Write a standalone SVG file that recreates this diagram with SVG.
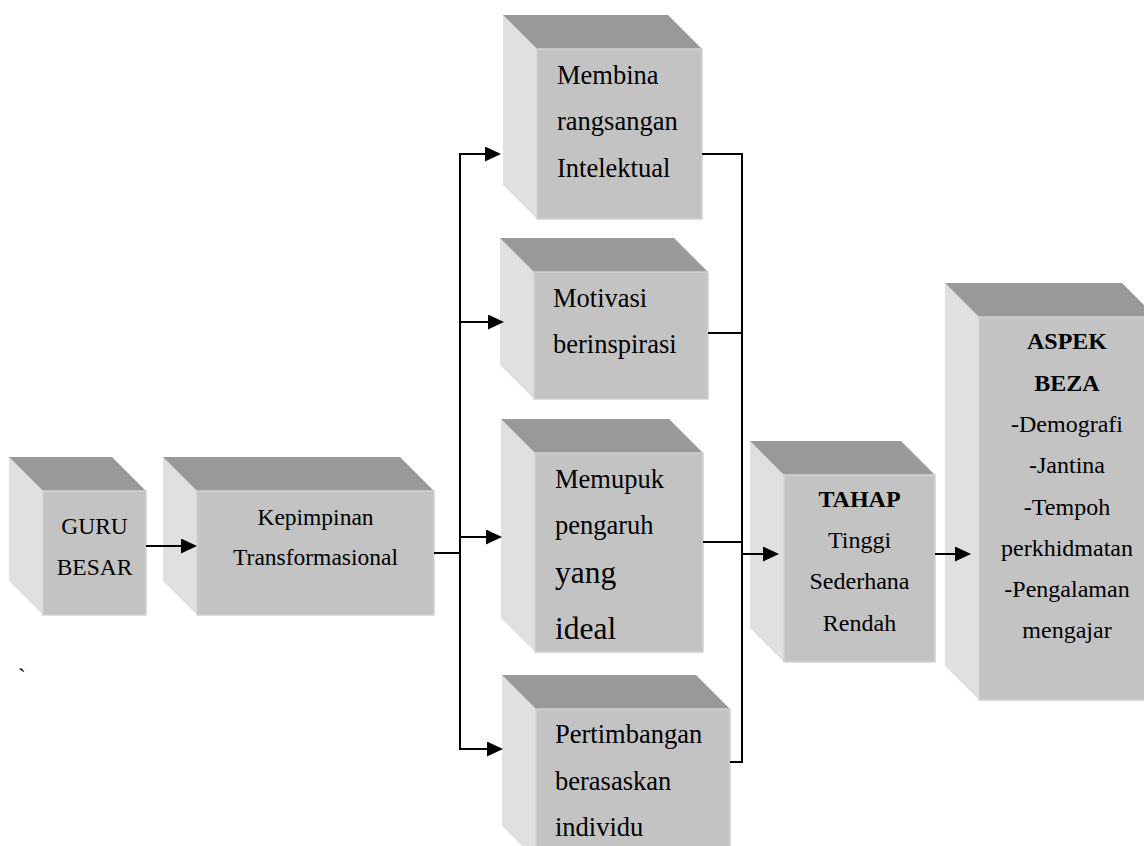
<svg xmlns="http://www.w3.org/2000/svg" width="1144" height="846" viewBox="0 0 1144 846">
<style>
.lf{fill:#e0e0e0}
.tp{fill:#999999}
.fr{fill:#c3c3c3;stroke:#d2d2d2;stroke-width:1.5}
text{font-family:"Liberation Serif","Times New Roman",serif;fill:#000}
.s24{font-size:23.5px}
.s26{font-size:26.5px}
.s31{font-size:31.5px}
.r24{font-size:24px}
.c{text-anchor:middle}
.b{font-weight:bold}
.ln{stroke:#000;stroke-width:2;fill:none}
</style>
<defs>
<marker id="ah" viewBox="0 0 16 15" refX="8" refY="7.5" markerWidth="16" markerHeight="15" markerUnits="userSpaceOnUse" orient="auto">
<path d="M0,0 L16,7.5 L0,15 z" fill="#000"/>
</marker>
</defs>
<rect width="1144" height="846" fill="#fff"/>

<g id="guru">
<polygon class="lf" points="9,457 43,491 43,615 9,581"/>
<polygon class="tp" points="9,457 112,457 146,491 43,491"/>
<rect class="fr" x="43" y="491" width="103" height="124"/>
<text class="s24 c" x="94.5" y="534">GURU</text>
<text class="s24 c" x="94.5" y="575">BESAR</text>
</g>

<g id="kepimpinan">
<polygon class="lf" points="163,457 197,491 197,615 163,581"/>
<polygon class="tp" points="163,457 400,457 434,491 197,491"/>
<rect class="fr" x="197" y="491" width="237" height="124"/>
<text class="s24 c" x="315.5" y="525">Kepimpinan</text>
<text class="s24 c" x="315.5" y="565">Transformasional</text>
</g>

<g id="membina">
<polygon class="lf" points="503,15 537,49 537,219 503,185"/>
<polygon class="tp" points="503,15 668,15 702,49 537,49"/>
<rect class="fr" x="537" y="49" width="165" height="170"/>
<text class="s26" x="557" y="84">Membina</text>
<text class="s26" x="557" y="130">rangsangan</text>
<text class="s26" x="557" y="177">Intelektual</text>
</g>

<g id="motivasi">
<polygon class="lf" points="500,238 534,272 534,399 500,365"/>
<polygon class="tp" points="500,238 674,238 708,272 534,272"/>
<rect class="fr" x="534" y="272" width="174" height="127"/>
<text class="s26" x="553" y="307">Motivasi</text>
<text class="s26" x="553" y="353">berinspirasi</text>
</g>

<g id="memupuk">
<polygon class="lf" points="501,419 535,453 535,652 501,618"/>
<polygon class="tp" points="501,419 669,419 703,453 535,453"/>
<rect class="fr" x="535" y="453" width="168" height="199"/>
<text class="s26" x="555" y="488">Memupuk</text>
<text class="s26" x="555" y="534">pengaruh</text>
<text class="s31" x="555" y="583">yang</text>
<text class="s31" x="555" y="639">ideal</text>
</g>

<g id="pertimbangan">
<polygon class="lf" points="502,675 536,709 536,860 502,826"/>
<polygon class="tp" points="502,675 696,675 730,709 536,709"/>
<rect class="fr" x="536" y="709" width="194" height="151"/>
<text class="s26" x="555" y="743">Pertimbangan</text>
<text class="s26" x="555" y="790">berasaskan</text>
<text class="s26" x="555" y="836">individu</text>
</g>

<g id="tahap">
<polygon class="lf" points="750,441 784,475 784,662 750,628"/>
<polygon class="tp" points="750,441 901,441 935,475 784,475"/>
<rect class="fr" x="784" y="475" width="151" height="187"/>
<text class="r24 c b" x="859.5" y="507">TAHAP</text>
<text class="r24 c" x="859.5" y="548">Tinggi</text>
<text class="r24 c" x="859.5" y="589">Sederhana</text>
<text class="r24 c" x="859.5" y="631">Rendah</text>
</g>

<g id="aspek">
<polygon class="lf" points="945,283 979,317 979,700 945,666"/>
<polygon class="tp" points="945,283 1122,283 1156,317 979,317"/>
<rect class="fr" x="979" y="317" width="177" height="383"/>
<text class="r24 c b" x="1067" y="349">ASPEK</text>
<text class="r24 c b" x="1067" y="391">BEZA</text>
<text class="r24 c" x="1067" y="432">-Demografi</text>
<text class="r24 c" x="1067" y="473">-Jantina</text>
<text class="r24 c" x="1067" y="515">-Tempoh</text>
<text class="r24 c" x="1067" y="556">perkhidmatan</text>
<text class="r24 c" x="1067" y="597">-Pengalaman</text>
<text class="r24 c" x="1067" y="638">mengajar</text>
</g>

<text class="s24" x="18" y="685">`</text>

<g id="connectors">
<line class="ln" x1="146" y1="546" x2="189" y2="546" marker-end="url(#ah)"/>
<polyline class="ln" points="434,553 460,553"/>
<line class="ln" x1="460" y1="153" x2="460" y2="750"/>
<line class="ln" x1="459" y1="154" x2="493" y2="154" marker-end="url(#ah)"/>
<line class="ln" x1="460" y1="322" x2="496" y2="322" marker-end="url(#ah)"/>
<line class="ln" x1="460" y1="537" x2="494" y2="537" marker-end="url(#ah)"/>
<line class="ln" x1="459" y1="749" x2="495" y2="749" marker-end="url(#ah)"/>
<line class="ln" x1="702" y1="154" x2="743" y2="154"/>
<line class="ln" x1="708" y1="333" x2="742" y2="333"/>
<line class="ln" x1="703" y1="542" x2="742" y2="542"/>
<line class="ln" x1="730" y1="762" x2="743" y2="762"/>
<line class="ln" x1="742" y1="153" x2="742" y2="763"/>
<line class="ln" x1="742" y1="554" x2="771" y2="554" marker-end="url(#ah)"/>
<line class="ln" x1="935" y1="554" x2="963" y2="554" marker-end="url(#ah)"/>
</g>
</svg>
